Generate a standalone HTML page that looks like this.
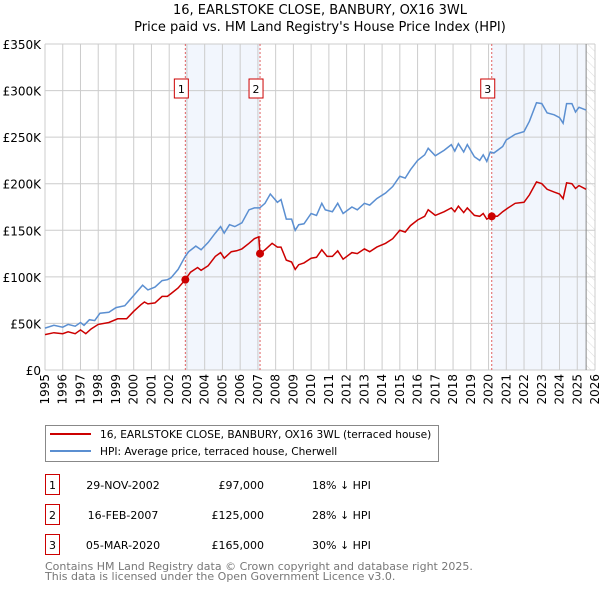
<!DOCTYPE html>
<html><head><meta charset="utf-8"><style>
body{margin:0;background:#fff;font-family:"DejaVu Sans","Liberation Sans",sans-serif;}
#wrap{position:relative;width:600px;height:590px;overflow:hidden;}
</style></head><body>
<div id="wrap">
<svg id="chart" width="600" height="590" viewBox="0 0 600 590" font-family="DejaVu Sans, Liberation Sans, sans-serif">
<defs>
<pattern id="hatch" width="6" height="6" patternUnits="userSpaceOnUse" patternTransform="rotate(-45)">
<line x1="0" y1="0" x2="0" y2="6" stroke="#ddd" stroke-width="1"/>
</pattern>
</defs>
<text x="320" y="14" text-anchor="middle" font-size="13" fill="#000">16, EARLSTOKE CLOSE, BANBURY, OX16 3WL</text>
<text x="320" y="31" text-anchor="middle" font-size="13" fill="#000">Price paid vs. HM Land Registry's House Price Index (HPI)</text>
<g id="plot"></g>
<g id="legend">
<rect x="45.5" y="425.5" width="393" height="36" fill="#fff" stroke="#888"/>
<line x1="50" y1="434" x2="91" y2="434" stroke="#cc0000" stroke-width="2"/>
<text x="100" y="438" font-size="10.6">16, EARLSTOKE CLOSE, BANBURY, OX16 3WL (terraced house)</text>
<line x1="50" y1="451" x2="91" y2="451" stroke="#5b8fd1" stroke-width="2"/>
<text x="100" y="455" font-size="10.6">HPI: Average price, terraced house, Cherwell</text>
</g>
<g id="table" font-size="11"></g>
<text x="45" y="570" font-size="11" fill="#777">Contains HM Land Registry data © Crown copyright and database right 2025.</text>
<text x="45" y="580" font-size="11" fill="#777">This data is licensed under the Open Government Licence v3.0.</text>
</svg>
</div>
<script>
const yTickValues=[0,50,100,150,200,250,300,350];
const yTickLabels=["£0","£50K","£100K","£150K","£200K","£250K","£300K","£350K"];
const xTickYears=[1995,1996,1997,1998,1999,2000,2001,2002,2003,2004,2005,2006,2007,2008,2009,2010,2011,2012,2013,2014,2015,2016,2017,2018,2019,2020,2021,2022,2023,2024,2025,2026];
const hpiYears=[1995,1995.5,1996,1996.3,1996.7,1997,1997.2,1997.5,1997.8,1998.1,1998.6,1999,1999.5,2000,2000.5,2000.8,2001.2,2001.6,2001.9,2002.1,2002.5,2002.9,2003.1,2003.5,2003.8,2004.2,2004.6,2004.9,2005.1,2005.4,2005.7,2006.1,2006.5,2006.8,2007.1,2007.4,2007.7,2008.1,2008.3,2008.6,2008.9,2009.1,2009.3,2009.6,2010,2010.3,2010.6,2010.8,2011.2,2011.5,2011.8,2012.3,2012.6,2013,2013.3,2013.7,2014.2,2014.6,2015,2015.3,2015.6,2016,2016.4,2016.6,2017,2017.5,2017.9,2018.1,2018.3,2018.6,2018.8,2019.2,2019.5,2019.7,2019.9,2020.1,2020.3,2020.8,2021,2021.5,2022,2022.3,2022.7,2023,2023.3,2023.7,2024,2024.2,2024.4,2024.7,2024.9,2025.1,2025.5];
const hpiValues=[45,48,46,49,47,51,48,54,53,61,62,67,69,80,91,86,89,96,97,99,108,122,127,133,129,137,147,154,147,156,154,158,172,174,174,179,189,180,183,162,162,150,156,157,168,166,179,172,170,179,168,175,172,179,177,184,190,197,208,206,215,225,231,238,230,236,242,235,243,234,242,229,225,231,224,234,233,240,247,253,256,267,287,286,276,274,271,265,286,286,277,282,279];
const priceYears=[1995,1995.5,1996,1996.3,1996.7,1997,1997.3,1997.6,1998,1998.6,1999.1,1999.6,2000,2000.4,2000.6,2000.8,2001.2,2001.6,2001.9,2002.1,2002.5,2002.91,2003.2,2003.6,2003.8,2004.2,2004.6,2004.9,2005.1,2005.5,2005.8,2006.1,2006.5,2006.8,2007.05,2007.12,2007.4,2007.8,2008.1,2008.3,2008.6,2008.9,2009.1,2009.3,2009.6,2010,2010.3,2010.6,2010.9,2011.2,2011.5,2011.8,2012.3,2012.6,2013,2013.3,2013.7,2014.2,2014.6,2015,2015.3,2015.6,2016,2016.4,2016.6,2017,2017.5,2017.9,2018.1,2018.3,2018.6,2018.8,2019.2,2019.5,2019.7,2019.9,2020.18,2020.5,2020.8,2021.1,2021.5,2022,2022.3,2022.7,2023,2023.3,2023.7,2024,2024.2,2024.4,2024.7,2024.9,2025.1,2025.5];
const priceValues=[38,40,39,41,39,43,39,44,49,51,55,55,63,70,73,71,72,79,79,82,88,97,105,110,107,112,122,126,120,127,128,130,136,141,143,125,129,136,132,132,118,116,108,113,115,120,121,129,122,122,128,119,126,125,130,127,132,136,141,150,148,155,161,165,172,166,170,174,170,176,169,174,166,165,168,162,165,165,170,174,179,180,188,202,200,194,191,189,184,201,200,195,198,194];
const saleLabels=["1","2","3"];
const saleYears=[2002.91,2007.12,2020.18];
const saleValues=[97,125,165];
const saleDates=["29-NOV-2002","16-FEB-2007","05-MAR-2020"];
const salePrices=["£97,000","£125,000","£165,000"];
const saleDiffs=["18% ↓ HPI","28% ↓ HPI","30% ↓ HPI"];
const dataEndYear=2025.5;

const X0=45,X1=595,Y0=370,Y1=44;
const xS=y=>X0+(y-1995)*(X1-X0)/31;
const yS=v=>Y0-v*(Y0-Y1)/350;
const NS="http://www.w3.org/2000/svg";
const plot=document.getElementById('plot');
function mk(tag,attrs,parent){const e=document.createElementNS(NS,tag);for(const k in attrs)e.setAttribute(k,attrs[k]);(parent||plot).appendChild(e);return e;}

for(let i=0;i<saleYears.length;i+=2){
  const end=i+1<saleYears.length?saleYears[i+1]:dataEndYear;
  const r=mk('rect',{x:xS(saleYears[i]),y:Y1,width:xS(end)-xS(saleYears[i]),height:Y0-Y1,fill:'#f2f6fd'});
  
  
}
const hz=mk('rect',{x:xS(dataEndYear),y:Y1,width:X1-xS(dataEndYear),height:Y0-Y1,fill:'url(#hatch)'});



xTickYears.forEach(yr=>{
  const l=mk('line',{x1:xS(yr),x2:xS(yr),y1:Y1,y2:Y0,stroke:'#ccc','stroke-width':1});
  
  
  const t=mk('text',{transform:`translate(${xS(yr)+4},374) rotate(-90)`,'text-anchor':'end','font-size':12,fill:'#000'});
  t.textContent=yr;
  
  
});
yTickValues.forEach((v,i)=>{
  const l=mk('line',{x1:X0,x2:X1,y1:yS(v),y2:yS(v),stroke:'#ccc','stroke-width':1});
  
  
  const t=mk('text',{x:X0-4,y:yS(v)+5,'text-anchor':'end','font-size':12,fill:'#000'});
  t.textContent=yTickLabels[i];
  
  
});
const el=mk('line',{x1:xS(dataEndYear),x2:xS(dataEndYear),y1:Y1,y2:Y0,stroke:'#888','stroke-width':1});



saleYears.forEach((yr,i)=>{
  const l=mk('line',{x1:xS(yr),x2:xS(yr),y1:Y1,y2:Y0,stroke:'#e06060','stroke-width':1,'stroke-dasharray':'2,2'});
  
  
  const b=mk('rect',{x:xS(yr)-11,y:79,width:14,height:19,fill:'#fff',stroke:'#cc0000'});
  
  
  const t=mk('text',{x:xS(yr)-4,y:93,'text-anchor':'middle','font-size':11});
  t.textContent=saleLabels[i];
  
  
});

function path(xs,vs){return xs.map((x,i)=>(i?'L':'M')+xS(x).toFixed(1)+','+yS(vs[i]).toFixed(1)).join('');}
const hp=mk('path',{d:path(hpiYears,hpiValues),fill:'none',stroke:'#5b8fd1','stroke-width':1.5});


const pp=mk('path',{d:path(priceYears,priceValues),fill:'none',stroke:'#cc0000','stroke-width':1.5});


saleYears.forEach((yr,i)=>{
  const c=mk('circle',{cx:xS(yr),cy:yS(saleValues[i]),r:4,fill:'#cc0000'});
  
  
});

const tb=document.getElementById('table');
saleLabels.forEach((s,i)=>{
  const y=485+i*30;
  const b=mk('rect',{x:45.5,y:y-10.5,width:14,height:20,fill:'#fff',stroke:'#cc0000'},tb);
  
  
  const vals=[[s,52.5,'middle'],[saleDates[i],123,'middle'],[salePrices[i],264,'end'],[saleDiffs[i],312,'start']];
  const names=['table-row-number','table-date','table-price','table-hpi-diff'];
  vals.forEach((v,j)=>{
    const t=mk('text',{x:v[1],y:y+4,'text-anchor':v[2],'font-size':11},tb);
    t.textContent=v[0];
    
    
  });
});
</script>
</body></html>
